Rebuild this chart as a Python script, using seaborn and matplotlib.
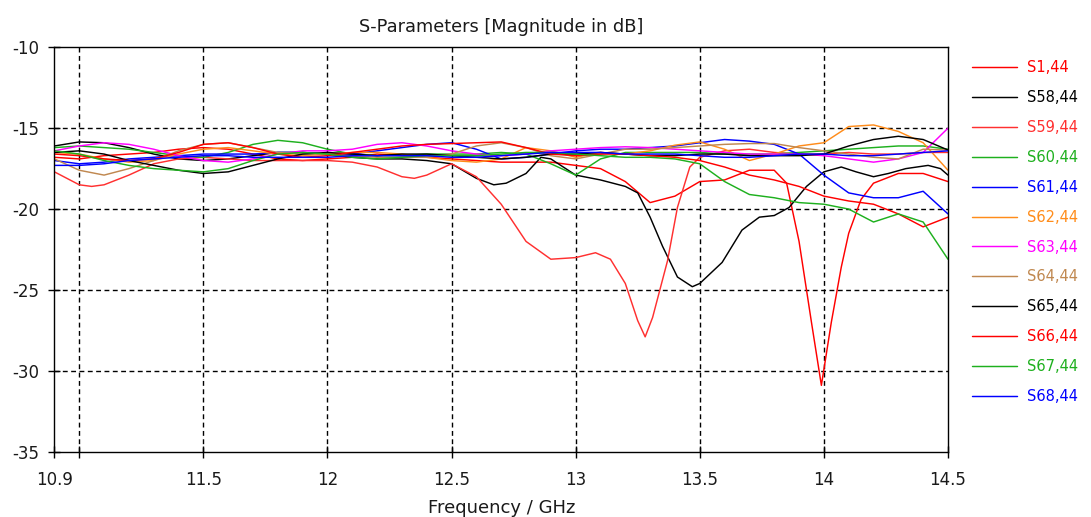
import numpy as np
import pandas as pd
import matplotlib
matplotlib.use("Agg")
import matplotlib.pyplot as plt
from matplotlib.lines import Line2D
import seaborn as sns

# common frequency grid (GHz) used by most traces
freq = [10.9, 11.0, 11.1, 11.2, 11.3, 11.4, 11.5, 11.6, 11.7, 11.8, 11.9,
        12.0, 12.1, 12.2, 12.3, 12.4, 12.5, 12.6, 12.7, 12.8, 12.9,
        13.0, 13.1, 13.2, 13.3, 13.4, 13.5, 13.6, 13.7, 13.8, 13.9,
        14.0, 14.1, 14.2, 14.3, 14.4, 14.5]

# S1,44 (own grid, sharp notch near 14 GHz)
freq_s1 = [10.9, 11.0, 11.1, 11.2, 11.3, 11.4, 11.5, 11.6, 11.7, 11.8, 11.9,
           12.0, 12.1, 12.2, 12.3, 12.4, 12.5, 12.6, 12.7, 12.8, 12.9,
           13.0, 13.1, 13.2, 13.3, 13.4, 13.5, 13.6, 13.7, 13.8, 13.85,
           13.9, 13.95, 13.99, 14.03, 14.07, 14.1, 14.15, 14.2, 14.3, 14.4, 14.5]
s1 = [-16.8, -16.9, -16.7, -16.6, -16.5, -16.3, -16.2, -16.3, -16.6, -16.9, -17.0,
      -16.9, -16.8, -16.6, -16.7, -16.8, -16.9, -17.0, -17.1, -17.1, -17.1,
      -17.3, -17.5, -18.3, -19.6, -19.2, -18.3, -18.2, -17.6, -17.6, -18.4,
      -22.0, -27.0, -30.9, -27.0, -23.6, -21.5, -19.4, -18.4, -17.8, -17.8, -18.3]

# S58,44 (own grid, notch near 13.5 GHz)
freq_s58 = [10.9, 11.0, 11.1, 11.2, 11.3, 11.4, 11.5, 11.6, 11.7, 11.8, 11.9,
            12.0, 12.1, 12.2, 12.3, 12.4, 12.5, 12.6, 12.67, 12.72, 12.8, 12.86,
            12.9, 13.0, 13.1, 13.2, 13.25, 13.3, 13.35, 13.41, 13.47, 13.5,
            13.59, 13.67, 13.74, 13.8, 13.86, 13.93, 14.0, 14.07, 14.13, 14.2,
            14.26, 14.33, 14.42, 14.47, 14.5]
s58 = [-16.1, -15.85, -15.9, -16.2, -16.6, -16.9, -17.0, -16.9, -16.7, -16.5, -16.5,
       -16.6, -16.8, -16.9, -16.9, -17.0, -17.2, -18.1, -18.5, -18.4, -17.8, -16.8,
       -16.9, -17.9, -18.2, -18.6, -19.0, -20.5, -22.3, -24.2, -24.8, -24.6,
       -23.3, -21.3, -20.5, -20.4, -19.9, -18.6, -17.7, -17.4, -17.7, -18.0,
       -17.8, -17.5, -17.3, -17.5, -17.9]

# S59,44 (own grid, deep notch near 13.3 GHz)
freq_s59 = [10.9, 11.0, 11.05, 11.1, 11.2, 11.3, 11.4, 11.5, 11.6, 11.7, 11.8, 11.9,
            12.0, 12.1, 12.2, 12.3, 12.35, 12.4, 12.5, 12.6, 12.7, 12.8, 12.9,
            13.0, 13.08, 13.14, 13.2, 13.25, 13.28, 13.31, 13.37, 13.41, 13.46,
            13.5, 13.6, 13.7, 13.8, 13.9, 14.0, 14.1, 14.2, 14.3, 14.4, 14.5]
s59 = [-17.7, -18.5, -18.6, -18.5, -17.9, -17.2, -16.9, -16.8, -16.9, -17.0, -17.0, -17.0,
       -17.0, -17.1, -17.4, -18.0, -18.1, -17.9, -17.2, -18.0, -19.7, -22.0, -23.1,
       -23.0, -22.7, -23.1, -24.6, -26.9, -27.9, -26.7, -23.2, -19.9, -17.4,
       -16.8, -16.4, -16.3, -16.5, -16.6, -16.6, -16.5, -16.6, -16.6, -16.5, -16.5]

s60 = [-16.2, -16.1, -16.2, -16.3, -16.5, -16.7, -16.8, -16.5, -16.0, -15.75, -15.9,
       -16.3, -16.6, -16.7, -16.7, -16.6, -16.6, -16.6, -16.5, -16.6, -17.2,
       -17.9, -16.9, -16.5, -16.5, -16.5, -16.5, -16.6, -16.6, -16.6, -16.5,
       -16.4, -16.3, -16.2, -16.1, -16.1, -16.3]

s61 = [-17.0, -17.2, -17.1, -16.9, -16.8, -16.7, -16.6, -16.6, -16.6, -16.5, -16.5,
       -16.6, -16.6, -16.4, -16.2, -16.0, -15.9, -16.3, -16.9, -16.8, -16.6,
       -16.4, -16.3, -16.3, -16.2, -16.1, -15.9, -15.7, -15.8, -16.0, -16.6,
       -17.9, -19.0, -19.3, -19.3, -18.9, -20.3]

s62 = [-16.5, -16.6, -16.9, -17.1, -17.0, -16.6, -16.3, -16.2, -16.4, -16.6, -16.7,
       -16.6, -16.5, -16.5, -16.6, -16.8, -17.0, -17.1, -16.9, -16.2, -16.4,
       -16.8, -16.5, -16.6, -16.4, -16.05, -15.85, -16.3, -17.0, -16.6, -16.1,
       -15.9, -14.9, -14.8, -15.2, -15.9, -17.6]

s63 = [-16.4, -16.1, -15.9, -16.0, -16.3, -16.7, -17.0, -17.1, -16.9, -16.6, -16.4,
       -16.4, -16.3, -16.0, -15.9, -16.1, -16.4, -16.6, -16.7, -16.6, -16.4,
       -16.3, -16.2, -16.15, -16.2, -16.3, -16.4, -16.5, -16.6, -16.6, -16.6,
       -16.7, -16.9, -17.1, -16.9, -16.5, -15.0]

s64 = [-16.9, -17.6, -17.9, -17.5, -17.0, -16.4, -16.0, -15.9, -16.2, -16.5, -16.6,
       -16.6, -16.7, -16.8, -16.8, -16.8, -16.6, -16.1, -15.9, -16.2, -16.7,
       -16.9, -16.6, -16.3, -16.3, -16.2, -16.1, -16.0, -15.95, -15.95, -16.2,
       -16.4, -16.6, -16.8, -16.9, -16.3, -16.35]

s65 = [-16.5, -16.4, -16.6, -17.0, -17.3, -17.6, -17.8, -17.7, -17.3, -16.9, -16.6,
       -16.5, -16.6, -16.7, -16.6, -16.6, -16.7, -16.8, -16.9, -16.8, -16.6,
       -16.6, -16.5, -16.6, -16.7, -16.7, -16.6, -16.6, -16.7, -16.7, -16.7,
       -16.6, -16.1, -15.7, -15.5, -15.7, -16.35]

s66 = [-16.6, -16.7, -16.9, -17.0, -16.9, -16.5, -16.0, -15.9, -16.2, -16.6, -16.8,
       -16.7, -16.5, -16.3, -16.1, -16.0, -15.95, -15.9, -15.85, -16.2, -16.6,
       -16.7, -16.6, -16.6, -16.7, -16.8, -17.0, -17.4, -17.9, -18.2, -18.6,
       -19.2, -19.5, -19.7, -20.3, -21.1, -20.5]

s67 = [-16.4, -16.6, -17.0, -17.3, -17.5, -17.6, -17.7, -17.5, -17.0, -16.6, -16.5,
       -16.6, -16.8, -16.9, -16.8, -16.7, -16.7, -16.7, -16.6, -16.5, -16.5,
       -16.6, -16.7, -16.8, -16.8, -16.9, -17.2, -18.3, -19.1, -19.3, -19.6,
       -19.7, -20.0, -20.8, -20.3, -20.8, -23.1]

s68 = [-17.3, -17.3, -17.2, -17.0, -16.9, -16.8, -16.7, -16.7, -16.8, -16.8, -16.8,
       -16.8, -16.7, -16.7, -16.7, -16.7, -16.8, -16.8, -16.7, -16.6, -16.5,
       -16.5, -16.5, -16.6, -16.6, -16.6, -16.7, -16.8, -16.8, -16.7, -16.6,
       -16.6, -16.7, -16.7, -16.6, -16.5, -16.4]

labels = ["S1,44", "S58,44", "S59,44", "S60,44", "S61,44", "S62,44",
          "S63,44", "S64,44", "S65,44", "S66,44", "S67,44", "S68,44"]
colors = ["#ff0000", "#000000", "#ff3030", "#1eb01e", "#0000ff", "#ff8c1a",
          "#ff00ff", "#c08850", "#000000", "#ff0000", "#1eb01e", "#0000ff"]

traces = {
    "S1,44": (freq_s1, s1), "S58,44": (freq_s58, s58), "S59,44": (freq_s59, s59),
    "S60,44": (freq, s60), "S61,44": (freq, s61), "S62,44": (freq, s62),
    "S63,44": (freq, s63), "S64,44": (freq, s64), "S65,44": (freq, s65),
    "S66,44": (freq, s66), "S67,44": (freq, s67), "S68,44": (freq, s68),
}

frames = []
for name in labels:
    fx, fy = traces[name]
    frames.append(pd.DataFrame({"Frequency": fx, "dB": fy, "port": name}))
df = pd.concat(frames, ignore_index=True)

sns.set_theme(style="white")
plt.rcParams["font.family"] = ["DejaVu Sans"]
plt.rcParams["axes.unicode_minus"] = False

text_col = "#1a1a1a"

fig = plt.figure(figsize=(10.91, 5.17), dpi=100)
ax = fig.add_axes([0.0499, 0.1263, 0.8190, 0.7822])

sns.lineplot(data=df, x="Frequency", y="dB", hue="port", hue_order=labels,
             palette=dict(zip(labels, colors)), estimator=None, sort=False,
             linewidth=1.05, legend=False, ax=ax)

ax.set_xlim(10.9, 14.5)
ax.set_ylim(-35, -10)

# labelled ticks at the axis ends plus every half GHz
xt = [10.9, 11.5, 12.0, 12.5, 13.0, 13.5, 14.0, 14.5]
xt_labels = ["10.9", "11.5", "12", "12.5", "13", "13.5", "14", "14.5"]
ax.set_xticks(xt)
ax.set_xticklabels(xt_labels)
ax.set_xticks([11.0], minor=True)
yt = [-35, -30, -25, -20, -15, -10]
ax.set_yticks(yt)
ax.set_yticklabels([str(v) for v in yt])

for gx in [11.0, 11.5, 12.0, 12.5, 13.0, 13.5, 14.0]:
    ax.axvline(gx, color="black", lw=1.0, ls=(0, (3.5, 2.5)), zorder=0.5)
for gy in [-15, -20, -25, -30]:
    ax.axhline(gy, color="black", lw=1.0, ls=(0, (3.5, 2.5)), zorder=0.5)

ax.tick_params(axis="both", which="both", direction="inout", length=8,
               width=1.0, color="black", labelsize=12, labelcolor=text_col,
               bottom=True, left=True)
ax.tick_params(axis="x", which="major", pad=10)
ax.tick_params(axis="y", pad=7)
for sp in ax.spines.values():
    sp.set_color("black")
    sp.set_linewidth(1.0)

ax.set_xlabel("Frequency / GHz", fontsize=13, color=text_col, labelpad=7)
ax.set_ylabel("")
ax.set_title("S-Parameters [Magnitude in dB]", fontsize=12.8, color=text_col, pad=11)

handles = [Line2D([0], [0], color=c, lw=1.05) for c in colors]
leg = fig.legend(handles, labels, loc="upper left", bbox_to_anchor=(0.8845, 0.8975),
                 frameon=False, fontsize=10.5, borderpad=0.0, handlelength=3.08,
                 handletextpad=0.68, labelspacing=1.02, labelcolor=colors)

fig.savefig("out.png", dpi=100, facecolor="white")
